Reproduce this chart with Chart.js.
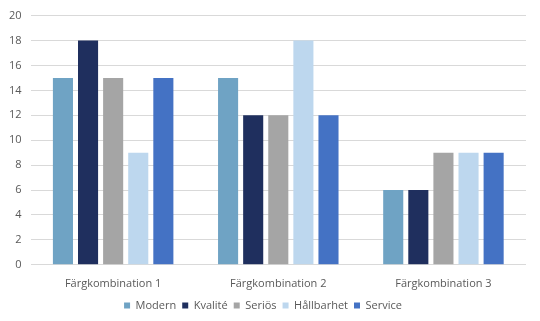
<!DOCTYPE html>
<html>
<head>
<meta charset="utf-8">
<script src="https://cdn.jsdelivr.net/npm/chart.js@4"></script>
<style>
  html, body { margin: 0; padding: 0; background: #fff; }
  #wrap { width: 540px; height: 321px; }
</style>
</head>
<body>
<div id="wrap"><canvas id="chart"></canvas></div>
<script>
//----- DATA -----//
const categories = ['Färgkombination 1', 'Färgkombination 2', 'Färgkombination 3'];
const seriesNames = ['Modern', 'Kvalité', 'Seriös', 'Hållbarhet', 'Service'];
const modern = [15, 15, 6];
const kvalite = [18, 12, 6];
const serios = [15, 12, 9];
const hallbarhet = [9, 18, 9];
const service = [15, 12, 9];
const yTicks = [0, 2, 4, 6, 8, 10, 12, 14, 16, 18, 20];

const colors = ['#6fa3c4', '#1f2f5e', '#a5a5a5', '#bdd7ee', '#4472c4'];
const values = [modern, kvalite, serios, hallbarhet, service];

//----- CONFIG -----//
const config = {
    type: 'bar',
    data: {
        labels: categories,
        datasets: seriesNames.map((name, i) => ({
            label: name,
            data: values[i],
            backgroundColor: colors[i],
            borderWidth: 0,
            barPercentage: 0.8,
            categoryPercentage: 0.76
        }))
    },
    options: {
        responsive: true,
        maintainAspectRatio: false,
        animation: false,
        layout: { padding: { top: 4, right: 14, left: 0, bottom: 0 } },
        plugins: {
            legend: {
                position: 'bottom',
                labels: {
                    usePointStyle: true,
                    pointStyle: 'rect',
                    boxWidth: 6,
                    boxHeight: 6,
                    padding: 6,
                    color: '#595959',
                    font: { family: 'Open Sans', size: 11 }
                }
            },
            tooltip: { enabled: false }
        },
        scales: {
            x: {
                grid: { display: false },
                border: { display: false },
                ticks: { color: '#595959', font: { family: 'Open Sans', size: 11 }, padding: 4 }
            },
            y: {
                min: 0,
                max: 20,
                afterBuildTicks: axis => { axis.ticks = yTicks.map(v => ({ value: v })); },
                grid: { color: '#d9d9d9', lineWidth: 1, drawTicks: false },
                border: { display: false },
                ticks: { color: '#595959', font: { family: 'Open Sans', size: 11 }, padding: 9 }
            }
        }
    }
};

//----- RENDER -----//
const chart = new Chart(document.getElementById('chart'), config);
</script>
</body>
</html>
